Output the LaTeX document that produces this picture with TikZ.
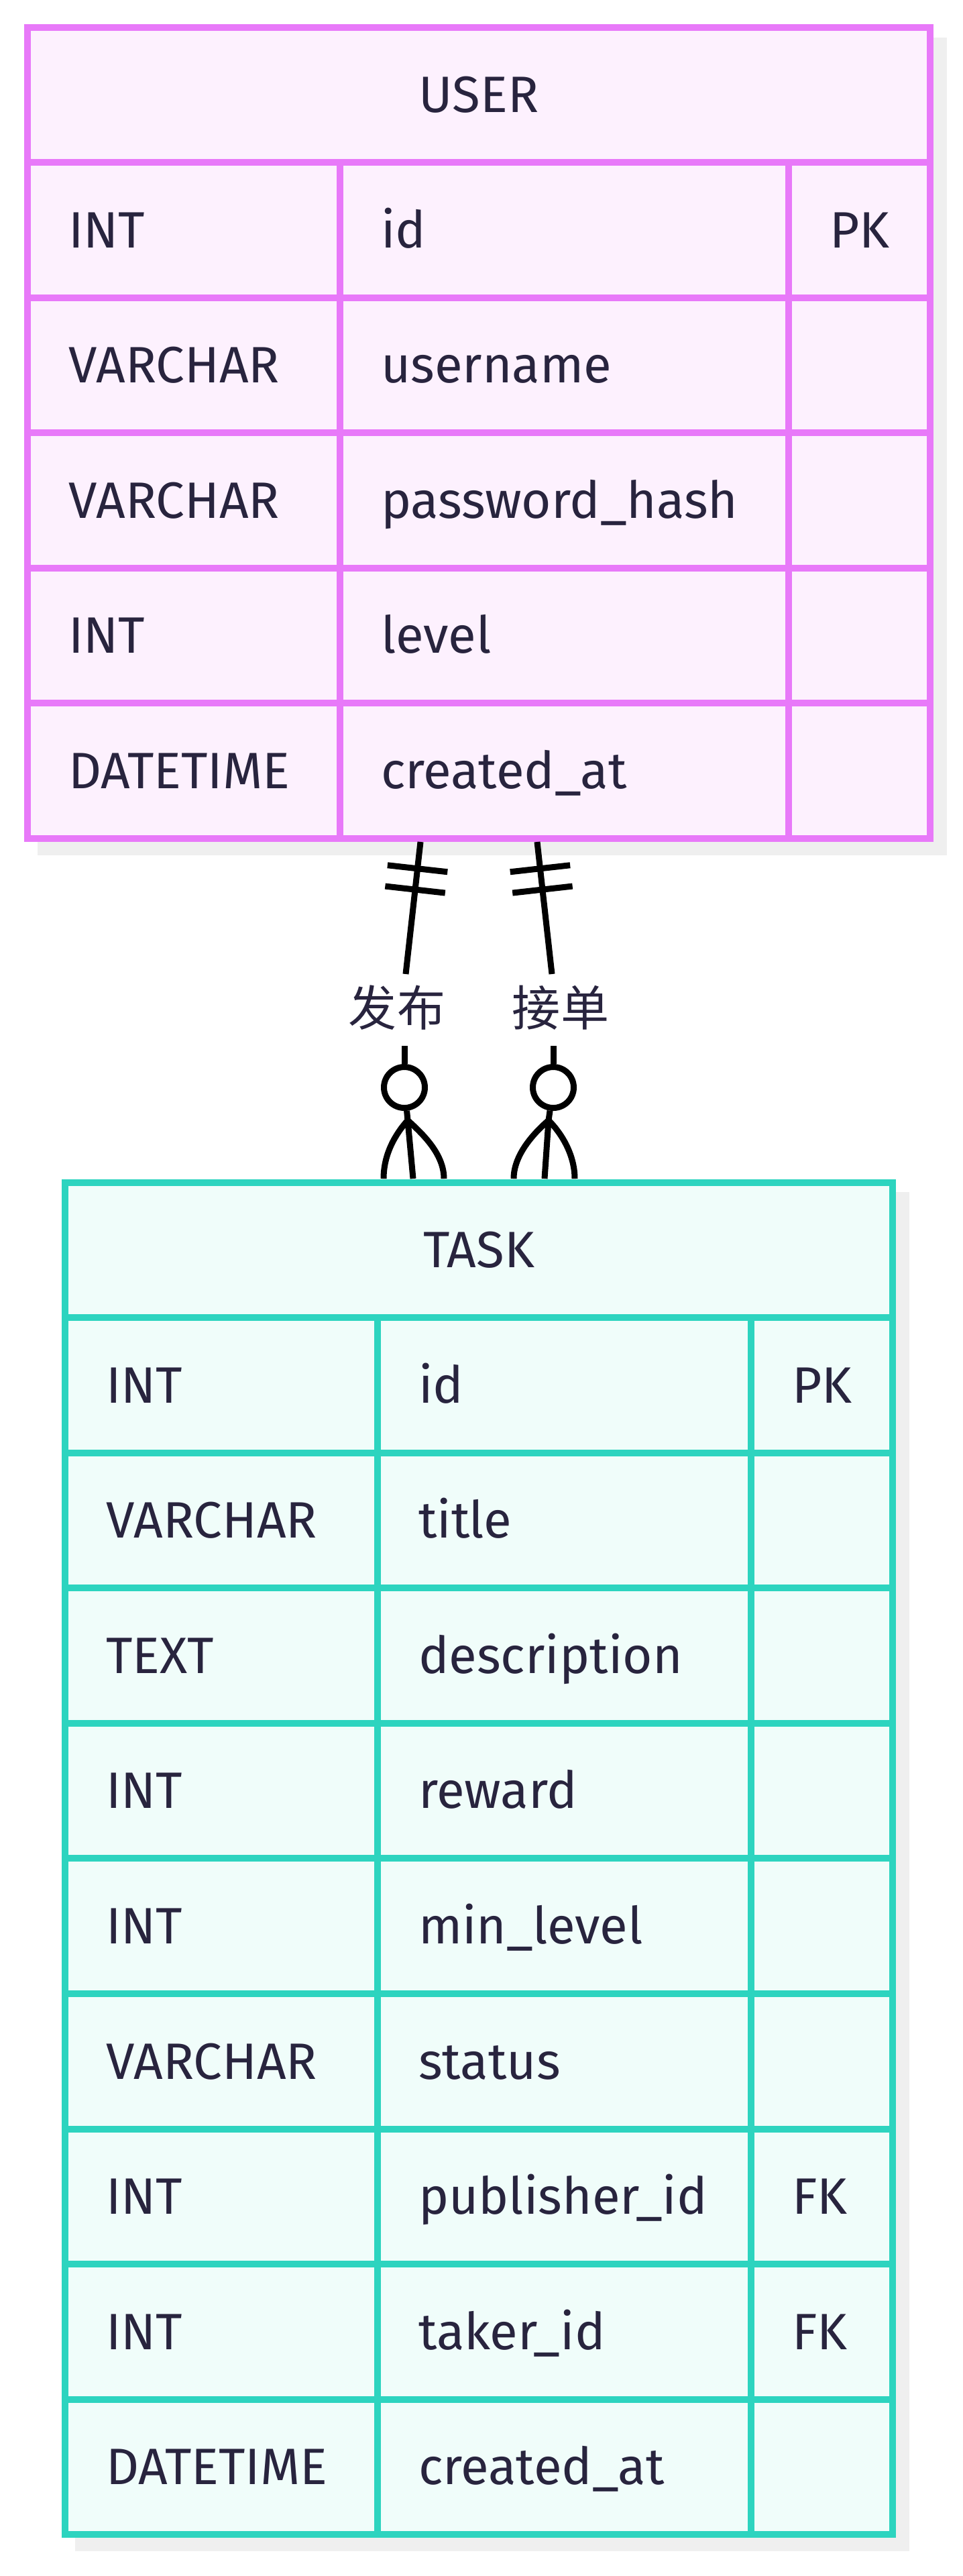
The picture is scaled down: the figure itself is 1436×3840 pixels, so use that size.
\documentclass[tikz,border=0pt]{standalone}
\usepackage{fontspec}
\setmainfont{Fira Sans}
\newfontfamily\cjkfont{Noto Sans CJK SC}
\usetikzlibrary{decorations.markings}
\definecolor{userline}{RGB}{232,121,249}
\definecolor{userfill}{RGB}{253,241,254}
\definecolor{taskline}{RGB}{45,212,191}
\definecolor{taskfill}{RGB}{240,253,250}
\definecolor{shadowgray}{RGB}{239,239,239}
\definecolor{ink}{RGB}{40,36,62}
\newcommand{\erfont}{\fontsize{21.7pt}{26pt}\selectfont}
\tikzset{
  cell/.style={draw,line width=1mm,inner xsep=6.1mm,inner ysep=0pt,minimum height=20.16mm,text height=5.25mm,text depth=0pt,align=left,font=\erfont,text=ink},
  hcell/.style={cell,align=center,minimum height=20.1mm},
  ucell/.style={cell,draw=userline,fill=userfill},
  tcell/.style={cell,draw=taskline,fill=taskfill},
  erback/.style={fill=shadowgray},
  rel/.style={line width=0.9mm,black},
  bars/.style={postaction={decorate},decoration={markings,
    mark=at position 4mm with {\draw[rel] (0,-4.5mm) -- (0,4.5mm);},
    mark=at position 7.15mm with {\draw[rel] (0,-4.5mm) -- (0,4.5mm);}}},
  ring/.style={circle,draw,line width=0.9mm,fill=white,minimum size=6.1mm,inner sep=0pt},
  rlab/.style={font=\cjkfont\fontsize{20.5pt}{24pt}\selectfont,text=ink,inner sep=0pt}
}

\begin{document}
\begin{tikzpicture}[x=0.1mm,y=-0.1mm]
  \useasboundingbox (0,0) rectangle (1436,3840);
  \fill[erback] (56,56) rectangle (1412,1275); \fill[erback] (112,1777) rectangle (1356,3803);
  % USER
  \node[ucell,hcell,minimum width=134.6mm] (user) at (714,141.5) {USER};
  \foreach \i/\ty/\nm/\ky in {1/INT/id/PK, 2/VARCHAR/username/{}, 3/VARCHAR/password\_hash/{}, 4/INT/level/{}, 5/DATETIME/created\_at/{}} {
    \node[ucell,minimum width=46.6mm,text width=34.4mm] (ut\i) at (274,{242+(\i-0.5)*201.6}) {\ty};
    \node[ucell,minimum width=66.9mm,text width=54.7mm] (un\i) at (841.5,{242+(\i-0.5)*201.6}) {\nm};
    \node[ucell,minimum width=21.1mm,text width=8.9mm] (uk\i) at (1281.5,{242+(\i-0.5)*201.6}) {\ky};
  }
  % TASK
  \node[tcell,hcell,minimum width=123.4mm] (task) at (714,1863) {TASK};
  \foreach \i/\ty/\nm/\ky in {1/INT/id/PK, 2/VARCHAR/title/{}, 3/TEXT/description/{}, 4/INT/reward/{}, 5/INT/min\_level/{}, 6/VARCHAR/status/{}, 7/INT/publisher\_id/FK, 8/INT/taker\_id/FK, 9/DATETIME/created\_at/{}} {
    \node[tcell,minimum width=46.6mm,text width=34.4mm] (tt\i) at (330,{1964+(\i-0.5)*201.6}) {\ty};
    \node[tcell,minimum width=55.7mm,text width=43.5mm] (tn\i) at (841.5,{1964+(\i-0.5)*201.6}) {\nm};
    \node[tcell,minimum width=21.1mm,text width=8.9mm] (tk\i) at (1225.5,{1964+(\i-0.5)*201.6}) {\ky};
  }
  % relations
  \coordinate (pubU) at (627,1255); \coordinate (pubA) at (605,1452); \coordinate (pubB) at (603,1559); \coordinate (pubC) at (608,1670);
  \coordinate (pubF1) at (572,1757); \coordinate (pubF2) at (616,1757); \coordinate (pubF3) at (662,1757);
  \coordinate (takU) at (801,1255); \coordinate (takA) at (823,1452); \coordinate (takB) at (825,1559); \coordinate (takC) at (818,1670);
  \coordinate (takF1) at (766,1757); \coordinate (takF2) at (812,1757); \coordinate (takF3) at (857,1757);
  \node[rlab] (pubL) at (592,1502) {发布}; \node[rlab] (takL) at (836,1502) {接单};
  \node[ring] (pubO) at (603,1621) {}; \node[ring] (takO) at (825,1621) {};
  \draw[rel,bars] (pubU) -- (pubA); \draw[rel] (pubB) -- (pubO);
  \draw[rel] (pubO) -- (pubC) .. controls (590,1690) and (572,1720) .. (pubF1) (pubC) -- (pubF2) (pubC) .. controls (630,1690) and (662,1720) .. (pubF3);
  \draw[rel,bars] (takU) -- (takA); \draw[rel] (takB) -- (takO);
  \draw[rel] (takO) -- (takC) .. controls (795,1690) and (766,1722) .. (takF1) (takC) -- (takF2) (takC) .. controls (838,1690) and (857,1722) .. (takF3);
\end{tikzpicture}
\end{document}
